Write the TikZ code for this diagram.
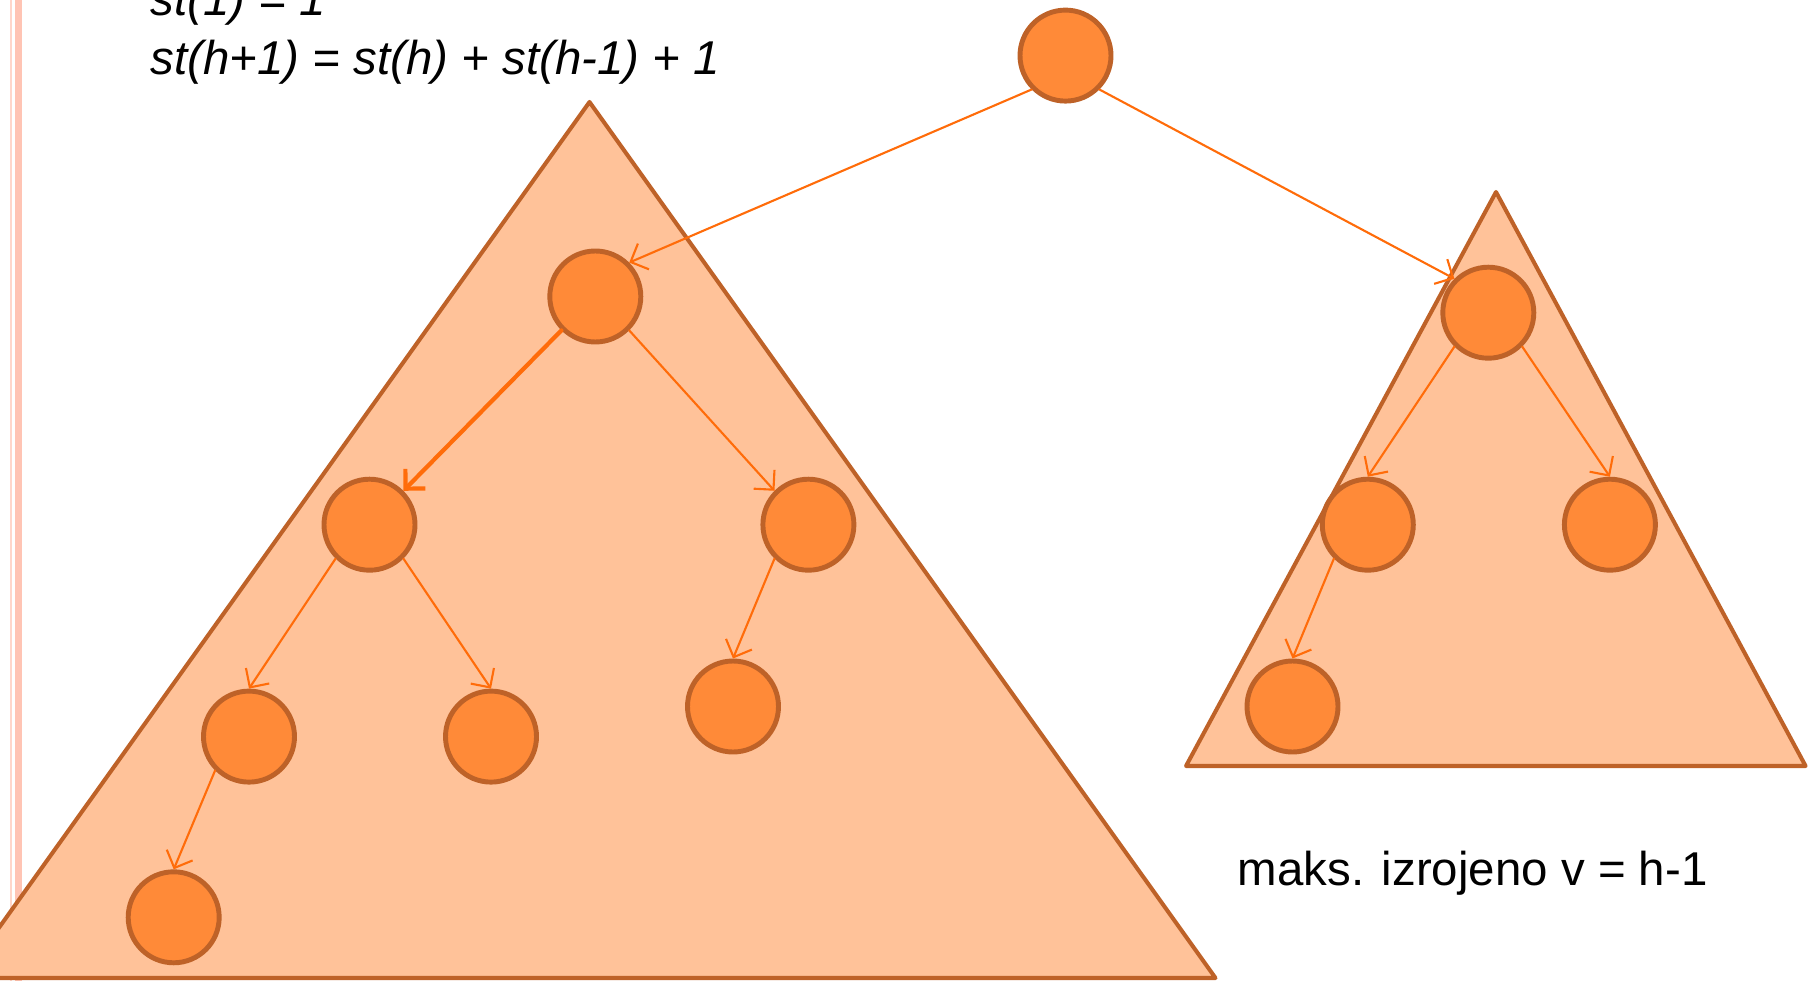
\documentclass[tikz,border=0pt]{standalone}
\usepackage{fontspec}
\setmainfont{Liberation Sans}
\usetikzlibrary{arrows.meta}
\definecolor{trifill}{RGB}{255,194,153}
\definecolor{tridraw}{RGB}{190,98,40}
\definecolor{nodefill}{RGB}{255,138,56}
\definecolor{linkcol}{RGB}{255,108,10}
\definecolor{stripe}{RGB}{255,196,180}
\begin{document}
\begin{tikzpicture}[line join=round,line cap=round,>={Straight Barb[length=1.4mm,width=2.8mm]},
		tri/.style={fill=trifill, draw=tridraw, line width=1.15pt},
		vtx/.style={circle, fill=nodefill, draw=tridraw, line width=1.4pt, minimum size=0.91cm, inner sep=0pt},
		link/.style={->, draw=linkcol, line width=0.6pt},
		txt/.style={font=\fontsize{13.5}{16}\selectfont, inner sep=0pt, anchor=base west}]
	\useasboundingbox (0,0) rectangle (18.16,9.81);
	\clip (0,0) rectangle (18.16,9.81);
	
	% side stripe
	\fill[stripe!70] (0.10,0) rectangle (0.12,9.81);
	\fill[stripe] (0.15,0) rectangle (0.22,9.81);
	
	% subtrees
	\filldraw[tri] (5.895,8.79) -- (12.155,0.03) -- (-0.37,0.03) -- cycle;
	\filldraw[tri] (14.96,7.89) -- (18.056,2.15) -- (11.86,2.15) -- cycle;
	
	\node[txt] (f1) at (1.50,9.65) {\itshape st(1) = 1};
	\node[txt] (f2) at (1.50,9.06) {\itshape st(h+1) = st(h) + st(h-1) + 1};
	\node[txt] (note) at (12.37,0.96) {maks. izrojeno v = h-1};
	
	\node[vtx] (root) at (10.655,9.254) {};
	\node[vtx] (L) at (5.953,6.845) {};
	\node[vtx] (LL) at (3.695,4.563) {};
	\node[vtx] (LR) at (8.084,4.563) {};
	\node[vtx] (LLL) at (2.49,2.444) {};
	\node[vtx] (LLR) at (4.91,2.444) {};
	\node[vtx] (LRL) at (7.33,2.745) {};
	\node[vtx] (LLLL) at (1.737,0.637) {};
	\node[vtx] (R) at (14.883,6.683) {};
	\node[vtx] (RL) at (13.678,4.563) {};
	\node[vtx] (RR) at (16.099,4.563) {};
	\node[vtx] (RLL) at (12.925,2.745) {};
	
	\foreach \a/\b in {root.south west/L.north east, root.south east/R.north west,
		L.south east/LR.north west, LL.south west/LLL.north, LL.south east/LLR.north,
		LR.south west/LRL.north, LLL.south west/LLLL.north,
		R.south west/RL.north, R.south east/RR.north, RL.south west/RLL.north}
		\draw[link] (\a) -- (\b);
	\draw[link, line width=1.2pt] (L.south west) -- (LL.north east);
\end{tikzpicture}
\end{document}
